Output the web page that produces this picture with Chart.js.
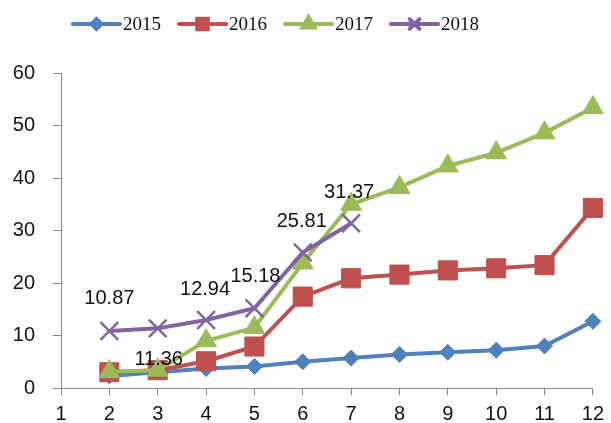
<!DOCTYPE html>
<html>
<head>
<meta charset="utf-8">
<script src="https://cdn.jsdelivr.net/npm/chart.js@4"></script>
<style>
  body { margin: 0; background: #fff; }
</style>
</head>
<body>
<canvas id="growthChart" width="611" height="423"></canvas>
<script>
// ================= DATA =================

const categories = ["1", "2", "3", "4", "5", "6", "7", "8", "9", "10", "11", "12"];

const years = ["2015", "2016", "2017", "2018"];

const values2015 = [null, 2.3, 3.0, 3.7, 4.1, 5.0, 5.7, 6.4, 6.8, 7.2, 8.0, 12.7];
const values2016 = [null, 3.0, 3.4, 5.1, 7.9, 17.4, 20.9, 21.6, 22.4, 22.8, 23.4, 34.3];
const values2017 = [null, 3.1, 3.4, 9.0, 11.5, 23.8, 35.0, 38.2, 42.3, 44.8, 48.6, 53.4];
const values2018 = [null, 10.87, 11.36, 12.94, 15.18, 25.81, 31.37, null, null, null, null, null];

const yTicks = [0, 10, 20, 30, 40, 50, 60];

// ================= STYLE =================

const colors = ["#4F81BD", "#C0504D", "#9BBB59", "#8064A2"];
const markers = ["rectRot", "rect", "triangle", "crossRot"];
const markerSizes = [8, 13.5, 12, 12.5];
const legendMarkerSizes = [5, 7.5, 7, 7];

// label offsets for the 2018 values (dx, dy from the point)
const labelOffsets = [[0, -32], [1, 31], [-1, -31], [1, -32], [-1, -31], [-2, -31]];

// ================= PLUGINS =================

const valueLabels = {
    id: "valueLabels",
    afterDatasetsDraw(chart) {
        const ctx = chart.ctx;
        const meta = chart.getDatasetMeta(3);
        ctx.save();
        ctx.font = "20px 'Liberation Sans', Arial, sans-serif";
        ctx.fillStyle = "#111";
        ctx.textAlign = "center";
        ctx.textBaseline = "middle";
        let k = 0;
        values2018.forEach((v, i) => {
            if (v === null) return;
            const pt = meta.data[i];
            const off = labelOffsets[k++] || [0, -31];
            ctx.fillText(v.toFixed(2), pt.x + off[0], pt.y + off[1]);
        });
        ctx.restore();
    }
};

const lineLegend = {
    id: "lineLegend",
    afterDraw(chart) {
        const ctx = chart.ctx;
        const y = 24;
        let x = 73;
        ctx.save();
        ctx.font = "19px 'Liberation Serif', 'Times New Roman', serif";
        ctx.textBaseline = "middle";
        ctx.textAlign = "left";
        years.forEach((name, i) => {
            ctx.strokeStyle = colors[i];
            ctx.lineWidth = 4;
            ctx.lineCap = "round";
            ctx.beginPath();
            ctx.moveTo(x, y);
            ctx.lineTo(x + 47, y);
            ctx.stroke();
            ctx.fillStyle = colors[i];
            Chart.helpers.drawPoint(ctx, {
                pointStyle: markers[i],
                radius: legendMarkerSizes[i],
                borderWidth: i === 3 ? 2 : 1,
                rotation: 0
            }, x + 23.5, y);
            ctx.fillStyle = "#111";
            ctx.fillText(name, x + 50, y + 1);
            x += 50 + ctx.measureText(name).width + 18;
        });
        ctx.restore();
    }
};

// ================= LINE CHART =================

const seriesValues = [values2015, values2016, values2017, values2018];

const axisFont = { family: "'Liberation Sans', Arial, sans-serif", size: 20 };

new Chart(document.getElementById("growthChart"), {

    type: "line",

    data: {
        labels: categories,
        datasets: seriesValues.map((vals, i) => ({
            label: years[i],
            data: vals,
            borderColor: colors[i],
            backgroundColor: colors[i],
            borderWidth: 4,
            tension: 0,
            pointStyle: markers[i],
            pointRadius: markerSizes[i],
            pointBorderWidth: i === 3 ? 2.5 : 1,
            pointBackgroundColor: colors[i],
            pointBorderColor: colors[i],
            order: 4 - i
        }))
    },

    options: {
        responsive: false,
        animation: false,
        layout: {
            padding: { top: 73, right: 13, bottom: 0, left: 0 }
        },
        plugins: {
            legend: { display: false },
            tooltip: { enabled: false }
        },
        scales: {
            x: {
                offset: false,
                grid: { drawOnChartArea: false, tickLength: 7, color: "#868686" },
                border: { color: "#868686", width: 1 },
                ticks: { font: axisFont, color: "#111", padding: 7, maxRotation: 0, autoSkip: false },
                afterFit(scale) { scale.height = 35; }
            },
            y: {
                min: 0,
                max: 60,
                afterBuildTicks(scale) { scale.ticks = yTicks.map(v => ({ value: v })); },
                grid: { drawOnChartArea: false, tickLength: 8, color: "#868686" },
                border: { color: "#868686", width: 1 },
                ticks: { font: axisFont, color: "#111", padding: 18 },
                afterFit(scale) { scale.width = 61; }
            }
        }
    },

    plugins: [valueLabels, lineLegend]

});
</script>
</body>
</html>
